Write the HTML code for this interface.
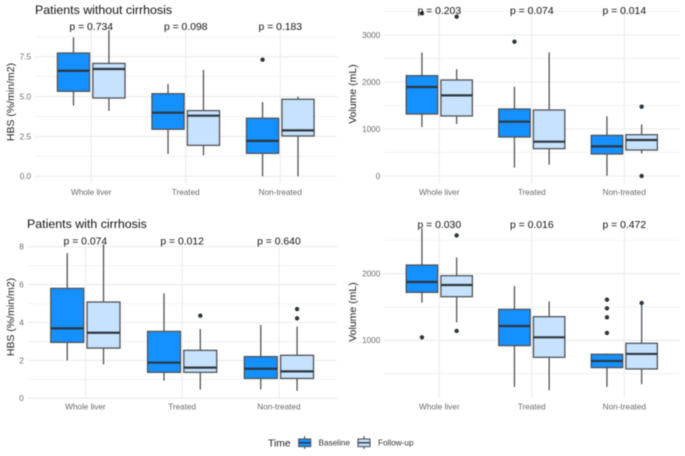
<!DOCTYPE html>
<html lang="en">
<head>
<meta charset="utf-8">
<title>HBS and volume boxplots</title>
<style>
html,body{margin:0;padding:0;background:#fff;width:685px;height:456px;overflow:hidden}
svg{display:block;font-family:"Liberation Sans",sans-serif;filter:blur(0.4px)}
</style>
</head>
<body>
<svg id="chart" width="685" height="456" viewBox="0 0 685 456" xmlns="http://www.w3.org/2000/svg"></svg>
<script>
const categories = ['Whole liver', 'Treated', 'Non-treated'];

// Each row: [lower whisker, Q1, median, Q3, upper whisker], one row per category
const hbsNoCirrhosisBaseline = [[4.43, 5.33, 6.62, 7.73, 8.71], [1.40, 2.95, 3.99, 5.18, 5.79], [0, 1.44, 2.22, 3.64, 4.66]];
const hbsNoCirrhosisFollowUp = [[4.10, 4.91, 6.73, 7.08, 9.17], [1.32, 1.94, 3.80, 4.12, 6.67], [0, 2.53, 2.88, 4.83, 5.00]];
const hbsNoCirrhosisBaselineOutliers = [[], [], [7.31]];
const hbsNoCirrhosisFollowUpOutliers = [[], [], []];
const hbsNoCirrhosisPValues = ['p = 0.734', 'p = 0.098', 'p = 0.183'];
const hbsNoCirrhosisMajorTicks = [0, 2.5, 5, 7.5];
const hbsNoCirrhosisMinorTicks = [1.25, 3.75, 6.25, 8.75];
const hbsNoCirrhosisTickLabels = ['0.0', '2.5', '5.0', '7.5'];

const volNoCirrhosisBaseline = [[1043, 1319, 1894, 2135, 2624], [177, 830, 1156, 1426, 1901], [7, 468, 631, 865, 1270]];
const volNoCirrhosisFollowUp = [[1106, 1277, 1716, 2043, 2270], [241, 582, 730, 1404, 2631], [482, 553, 766, 879, 1099]];
const volNoCirrhosisBaselineOutliers = [[3461], [2858], []];
const volNoCirrhosisFollowUpOutliers = [[3390], [], [1475, 0]];
const volNoCirrhosisPValues = ['p = 0.203', 'p = 0.074', 'p = 0.014'];
const volNoCirrhosisMajorTicks = [0, 1000, 2000, 3000];
const volNoCirrhosisMinorTicks = [500, 1500, 2500, 3500];
const volNoCirrhosisTickLabels = ['0', '1000', '2000', '3000'];

const hbsCirrhosisBaseline = [[2.00, 2.95, 3.69, 5.80, 7.66], [0.93, 1.37, 1.88, 3.53, 5.54], [0.47, 1.05, 1.56, 2.20, 3.87]];
const hbsCirrhosisFollowUp = [[1.79, 2.65, 3.46, 5.08, 8.12], [0.46, 1.37, 1.62, 2.53, 3.66], [0.39, 1.05, 1.42, 2.27, 3.78]];
const hbsCirrhosisBaselineOutliers = [[], [], []];
const hbsCirrhosisFollowUpOutliers = [[], [4.36], [4.22, 4.71]];
const hbsCirrhosisPValues = ['p = 0.074', 'p = 0.012', 'p = 0.640'];
const hbsCirrhosisMajorTicks = [0, 2, 4, 6, 8];
const hbsCirrhosisMinorTicks = [1, 3, 5, 7];
const hbsCirrhosisTickLabels = ['0', '2', '4', '6', '8'];

const volCirrhosisBaseline = [[1565, 1720, 1875, 2130, 2680], [300, 920, 1215, 1465, 1815], [300, 590, 690, 790, 800]];
const volCirrhosisFollowUp = [[1270, 1655, 1830, 1970, 2245], [250, 745, 1045, 1355, 1585], [340, 570, 795, 955, 1560]];
const volCirrhosisBaselineOutliers = [[1045], [], [1110, 1345, 1480, 1610]];
const volCirrhosisFollowUpOutliers = [[1140, 2575], [], [1560]];
const volCirrhosisPValues = ['p = 0.030', 'p = 0.016', 'p = 0.472'];
const volCirrhosisMajorTicks = [1000, 2000];
const volCirrhosisMinorTicks = [500, 1500, 2500];
const volCirrhosisTickLabels = ['1000', '2000'];

const legendTitle = 'Time';
const legendLabels = ['Baseline', 'Follow-up'];

const NS = 'http://www.w3.org/2000/svg';
const svg = document.getElementById('chart');
const BASE_FILL = '#1490FF';
const FOLLOW_FILL = '#C6E2FF';
const EDGE = '#4f5357';
const DARK = '#2f363c';

function make(tag, attrs, parent) {
  const el = document.createElementNS(NS, tag);
  for (const k in attrs) el.setAttribute(k, attrs[k]);
  (parent || svg).appendChild(el);
  return el;
}

function drawBox(g, cx, w, stats, outliers, fill, y) {
  const [lo, q1, med, q3, hi] = stats;
  const whisker = make('path', {
    d: `M${cx} ${y(hi)}V${y(q3)}M${cx} ${y(q1)}V${y(lo)}`,
    stroke: '#4a4e52', 'stroke-width': 1.25, fill: 'none'
  }, g);
  
  
  const rect = make('rect', {
    x: cx - w / 2, y: y(q3), width: w, height: y(q1) - y(q3),
    fill: fill, stroke: EDGE, 'stroke-width': 1.3
  }, g);
  
  
  const median = make('line', {
    x1: cx - w / 2, x2: cx + w / 2, y1: y(med), y2: y(med),
    stroke: DARK, 'stroke-width': 2.2
  }, g);
  
  
  outliers.forEach(v => {
    const dot = make('circle', { cx: cx, cy: y(v), r: 2.2, fill: DARK }, g);
    
    
  });
}

function drawPanel(p) {
  const g = make('g', {});
  
  

  const y = v => p.y0 + (v - p.d0) * (p.y1 - p.y0) / (p.d1 - p.d0);
  const step = (p.right - p.left) / 3.2;
  const x = i => p.left + (0.6 + i) * step;
  const boxW = step * 0.34;
  const offset = step * 0.1875;

  p.minor.forEach(v => {
    const l = make('line', { x1: p.left, x2: p.right, y1: y(v), y2: y(v), stroke: '#f2f2f2', 'stroke-width': 0.9 }, g);
    
    
  });
  p.major.forEach((v, i) => {
    const l = make('line', { x1: p.left, x2: p.right, y1: y(v), y2: y(v), stroke: '#ebebeb', 'stroke-width': 1.1 }, g);
    
    
    const t = make('text', { x: p.left - 3.5, y: y(v) + 2.9, 'text-anchor': 'end', 'font-size': 8.2, fill: '#6a6a6a' }, g);
    
    
    t.textContent = p.labels[i];
  });
  categories.forEach((c, i) => {
    const l = make('line', { x1: x(i), x2: x(i), y1: p.top, y2: p.bottom, stroke: '#ebebeb', 'stroke-width': 1.1 }, g);
    
    
    const t = make('text', { x: x(i), y: p.xLabelY, 'text-anchor': 'middle', 'font-size': 8.2, fill: '#6a6a6a' }, g);
    
    
    t.textContent = c;
  });
  categories.forEach((c, i) => {
    drawBox(g, x(i) - offset, boxW, p.base[i], p.baseOut[i], BASE_FILL, y);
    drawBox(g, x(i) + offset, boxW, p.follow[i], p.followOut[i], FOLLOW_FILL, y);
    const t = make('text', { x: x(i), y: p.pY, 'text-anchor': 'middle', 'font-size': 10.4, fill: '#111' }, g);
    
    
    t.textContent = p.pvals[i];
  });

  const yt = make('text', {
    x: 0, y: 0, 'text-anchor': 'middle', 'font-size': 10.5, fill: '#1f1f1f',
    transform: `translate(${p.yTitleX} ${p.yTitleY}) rotate(-90)`
  }, g);
  
  
  yt.textContent = p.yTitle;

  if (p.title) {
    const tt = make('text', { x: p.titleX, y: p.titleY, 'font-size': 12.4, fill: '#111' }, g);
    
    
    tt.textContent = p.title;
  }
}

drawPanel({
  name: 'panel-hbs-without-cirrhosis', title: 'Patients without cirrhosis', titleX: 35, titleY: 14,
  left: 34.5, right: 337, top: 23, bottom: 183.5,
  d0: 0, y0: 176.3, d1: 7.5, y1: 56.7,
  major: hbsNoCirrhosisMajorTicks, minor: hbsNoCirrhosisMinorTicks, labels: hbsNoCirrhosisTickLabels,
  base: hbsNoCirrhosisBaseline, follow: hbsNoCirrhosisFollowUp,
  baseOut: hbsNoCirrhosisBaselineOutliers, followOut: hbsNoCirrhosisFollowUpOutliers,
  pvals: hbsNoCirrhosisPValues, pY: 30, xLabelY: 195,
  yTitle: 'HBS (%/min/m2)', yTitleX: 14, yTitleY: 102
});
drawPanel({
  name: 'panel-volume-without-cirrhosis',
  left: 383.8, right: 679.8, top: 7, bottom: 183.5,
  d0: 0, y0: 176, d1: 3000, y1: 35,
  major: volNoCirrhosisMajorTicks, minor: volNoCirrhosisMinorTicks, labels: volNoCirrhosisTickLabels,
  base: volNoCirrhosisBaseline, follow: volNoCirrhosisFollowUp,
  baseOut: volNoCirrhosisBaselineOutliers, followOut: volNoCirrhosisFollowUpOutliers,
  pvals: volNoCirrhosisPValues, pY: 14, xLabelY: 195,
  yTitle: 'Volume (mL)', yTitleX: 356, yTitleY: 94
});
drawPanel({
  name: 'panel-hbs-with-cirrhosis', title: 'Patients with cirrhosis', titleX: 27, titleY: 228,
  left: 27.3, right: 337, top: 246, bottom: 399,
  d0: 0, y0: 398.3, d1: 8, y1: 246.7,
  major: hbsCirrhosisMajorTicks, minor: hbsCirrhosisMinorTicks, labels: hbsCirrhosisTickLabels,
  base: hbsCirrhosisBaseline, follow: hbsCirrhosisFollowUp,
  baseOut: hbsCirrhosisBaselineOutliers, followOut: hbsCirrhosisFollowUpOutliers,
  pvals: hbsCirrhosisPValues, pY: 244.5, xLabelY: 409.5,
  yTitle: 'HBS (%/min/m2)', yTitleX: 14, yTitleY: 317
});
drawPanel({
  name: 'panel-volume-with-cirrhosis',
  left: 383.8, right: 679.8, top: 226, bottom: 398,
  d0: 1000, y0: 340.3, d1: 2000, y1: 273.7,
  major: volCirrhosisMajorTicks, minor: volCirrhosisMinorTicks, labels: volCirrhosisTickLabels,
  base: volCirrhosisBaseline, follow: volCirrhosisFollowUp,
  baseOut: volCirrhosisBaselineOutliers, followOut: volCirrhosisFollowUpOutliers,
  pvals: volCirrhosisPValues, pY: 228, xLabelY: 409.5,
  yTitle: 'Volume (mL)', yTitleX: 356, yTitleY: 312
});

// Legend
const legend = make('g', {});


const lt = make('text', { x: 268, y: 446.5, 'font-size': 10.4, fill: '#1f1f1f' }, legend);


lt.textContent = legendTitle;

function legendEntry(boxX, textX, fill, label) {
  const e = make('g', {}, legend);
  
  
  make('path', { d: `M${boxX + 6} 436V449`, stroke: '#4a4e52', 'stroke-width': 1.1 }, e);
  make('rect', { x: boxX, y: 439, width: 12, height: 7.6, fill: fill, stroke: EDGE, 'stroke-width': 1.1 }, e);
  make('line', { x1: boxX, x2: boxX + 12, y1: 442.8, y2: 442.8, stroke: DARK, 'stroke-width': 1.4 }, e);
  const t = make('text', { x: textX, y: 445.6, 'font-size': 8.2, fill: '#333' }, e);
  t.textContent = label;
}
legendEntry(298.7, 318.5, BASE_FILL, legendLabels[0]);
legendEntry(358, 378, FOLLOW_FILL, legendLabels[1]);
</script>
</body>
</html>
